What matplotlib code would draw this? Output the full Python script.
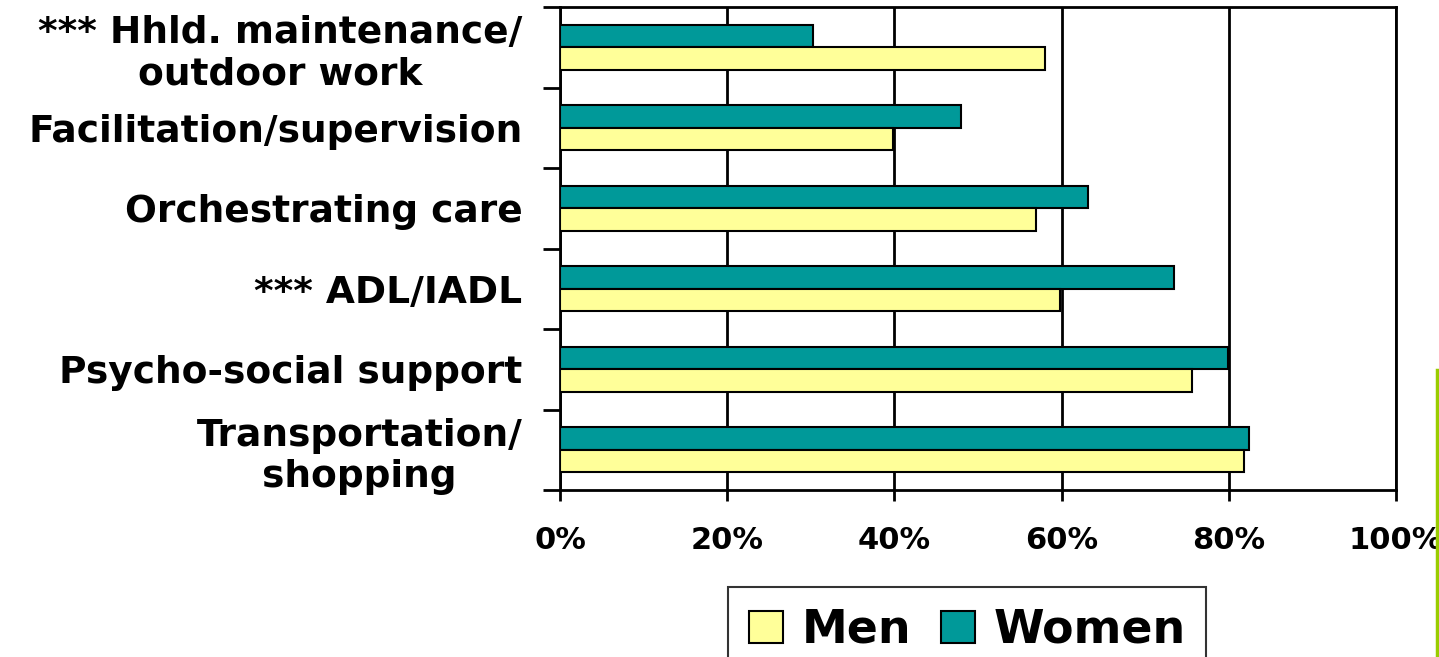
import matplotlib
matplotlib.use("Agg")
import matplotlib.pyplot as plt
from matplotlib.lines import Line2D
import numpy as np

plt.rcParams['font.family'] = ['DejaVu Sans']
plt.rcParams['font.weight'] = 'bold'

# categories listed top to bottom
categories = ["*** Hhld. maintenance/\noutdoor work",
              "Facilitation/supervision",
              "Orchestrating care",
              "*** ADL/IADL",
              "Psycho-social support",
              "Transportation/\nshopping"]
men = [58.0, 39.8, 56.9, 59.8, 75.6, 81.8]
women = [30.3, 48.0, 63.1, 73.4, 79.9, 82.4]
xticks = [0, 20, 40, 60, 80, 100]
xticklabels = ["0%", "20%", "40%", "60%", "80%", "100%"]

men_col = "#FFFF99"
women_col = "#009999"

fig = plt.figure(figsize=(14.39, 6.57), dpi=100)
ax = fig.add_axes([560/1439, 1-490/657, (1396-560)/1439, (490-7)/657])

n = len(categories)
y = np.arange(n)[::-1]
h = 0.28
ax.barh(y + h/2, women, height=h, color=women_col, edgecolor='black', linewidth=1.5, label="Women", zorder=3)
ax.barh(y - h/2, men, height=h, color=men_col, edgecolor='black', linewidth=1.5, label="Men", zorder=3)

ax.set_xlim(0, 100)
ax.set_ylim(-0.5, n - 0.5)
ax.set_xticks(xticks)
ax.set_xticklabels(xticklabels, fontsize=22, fontweight='bold')
ax.tick_params(axis='x', length=8, width=2, pad=18)
ax.xaxis.grid(True, color='black', linewidth=2, zorder=0)

ax.set_yticks(np.arange(n + 1) - 0.5)
ax.set_yticklabels([])
ax.tick_params(axis='y', length=12, width=2)
ax.set_yticks(y, minor=True)
ax.set_yticklabels(categories, minor=True, fontsize=27, fontweight='bold',
                   multialignment='center', linespacing=1.17)
ax.tick_params(axis='y', which='minor', length=0, pad=27)

for s in ['left', 'bottom', 'right', 'top']:
    ax.spines[s].set_linewidth(2)

handles, labels = ax.get_legend_handles_labels()
leg = fig.legend(handles[::-1], labels[::-1], loc='upper left',
                 bbox_to_anchor=(728/1439, 1-587/657), ncol=2,
                 prop={'size': 33, 'weight': 'bold'}, frameon=True, fancybox=False,
                 edgecolor='black', handlelength=0.75, handleheight=0.7,
                 handletextpad=0.4, columnspacing=0.65, borderpad=0.45,
                 borderaxespad=0)
leg.get_frame().set_linewidth(1.5)

fig.add_artist(Line2D([1437/1439, 1437/1439], [0, 1-370/657], color='#99CC00', linewidth=2.5))

fig.savefig("out.png", dpi=100)
